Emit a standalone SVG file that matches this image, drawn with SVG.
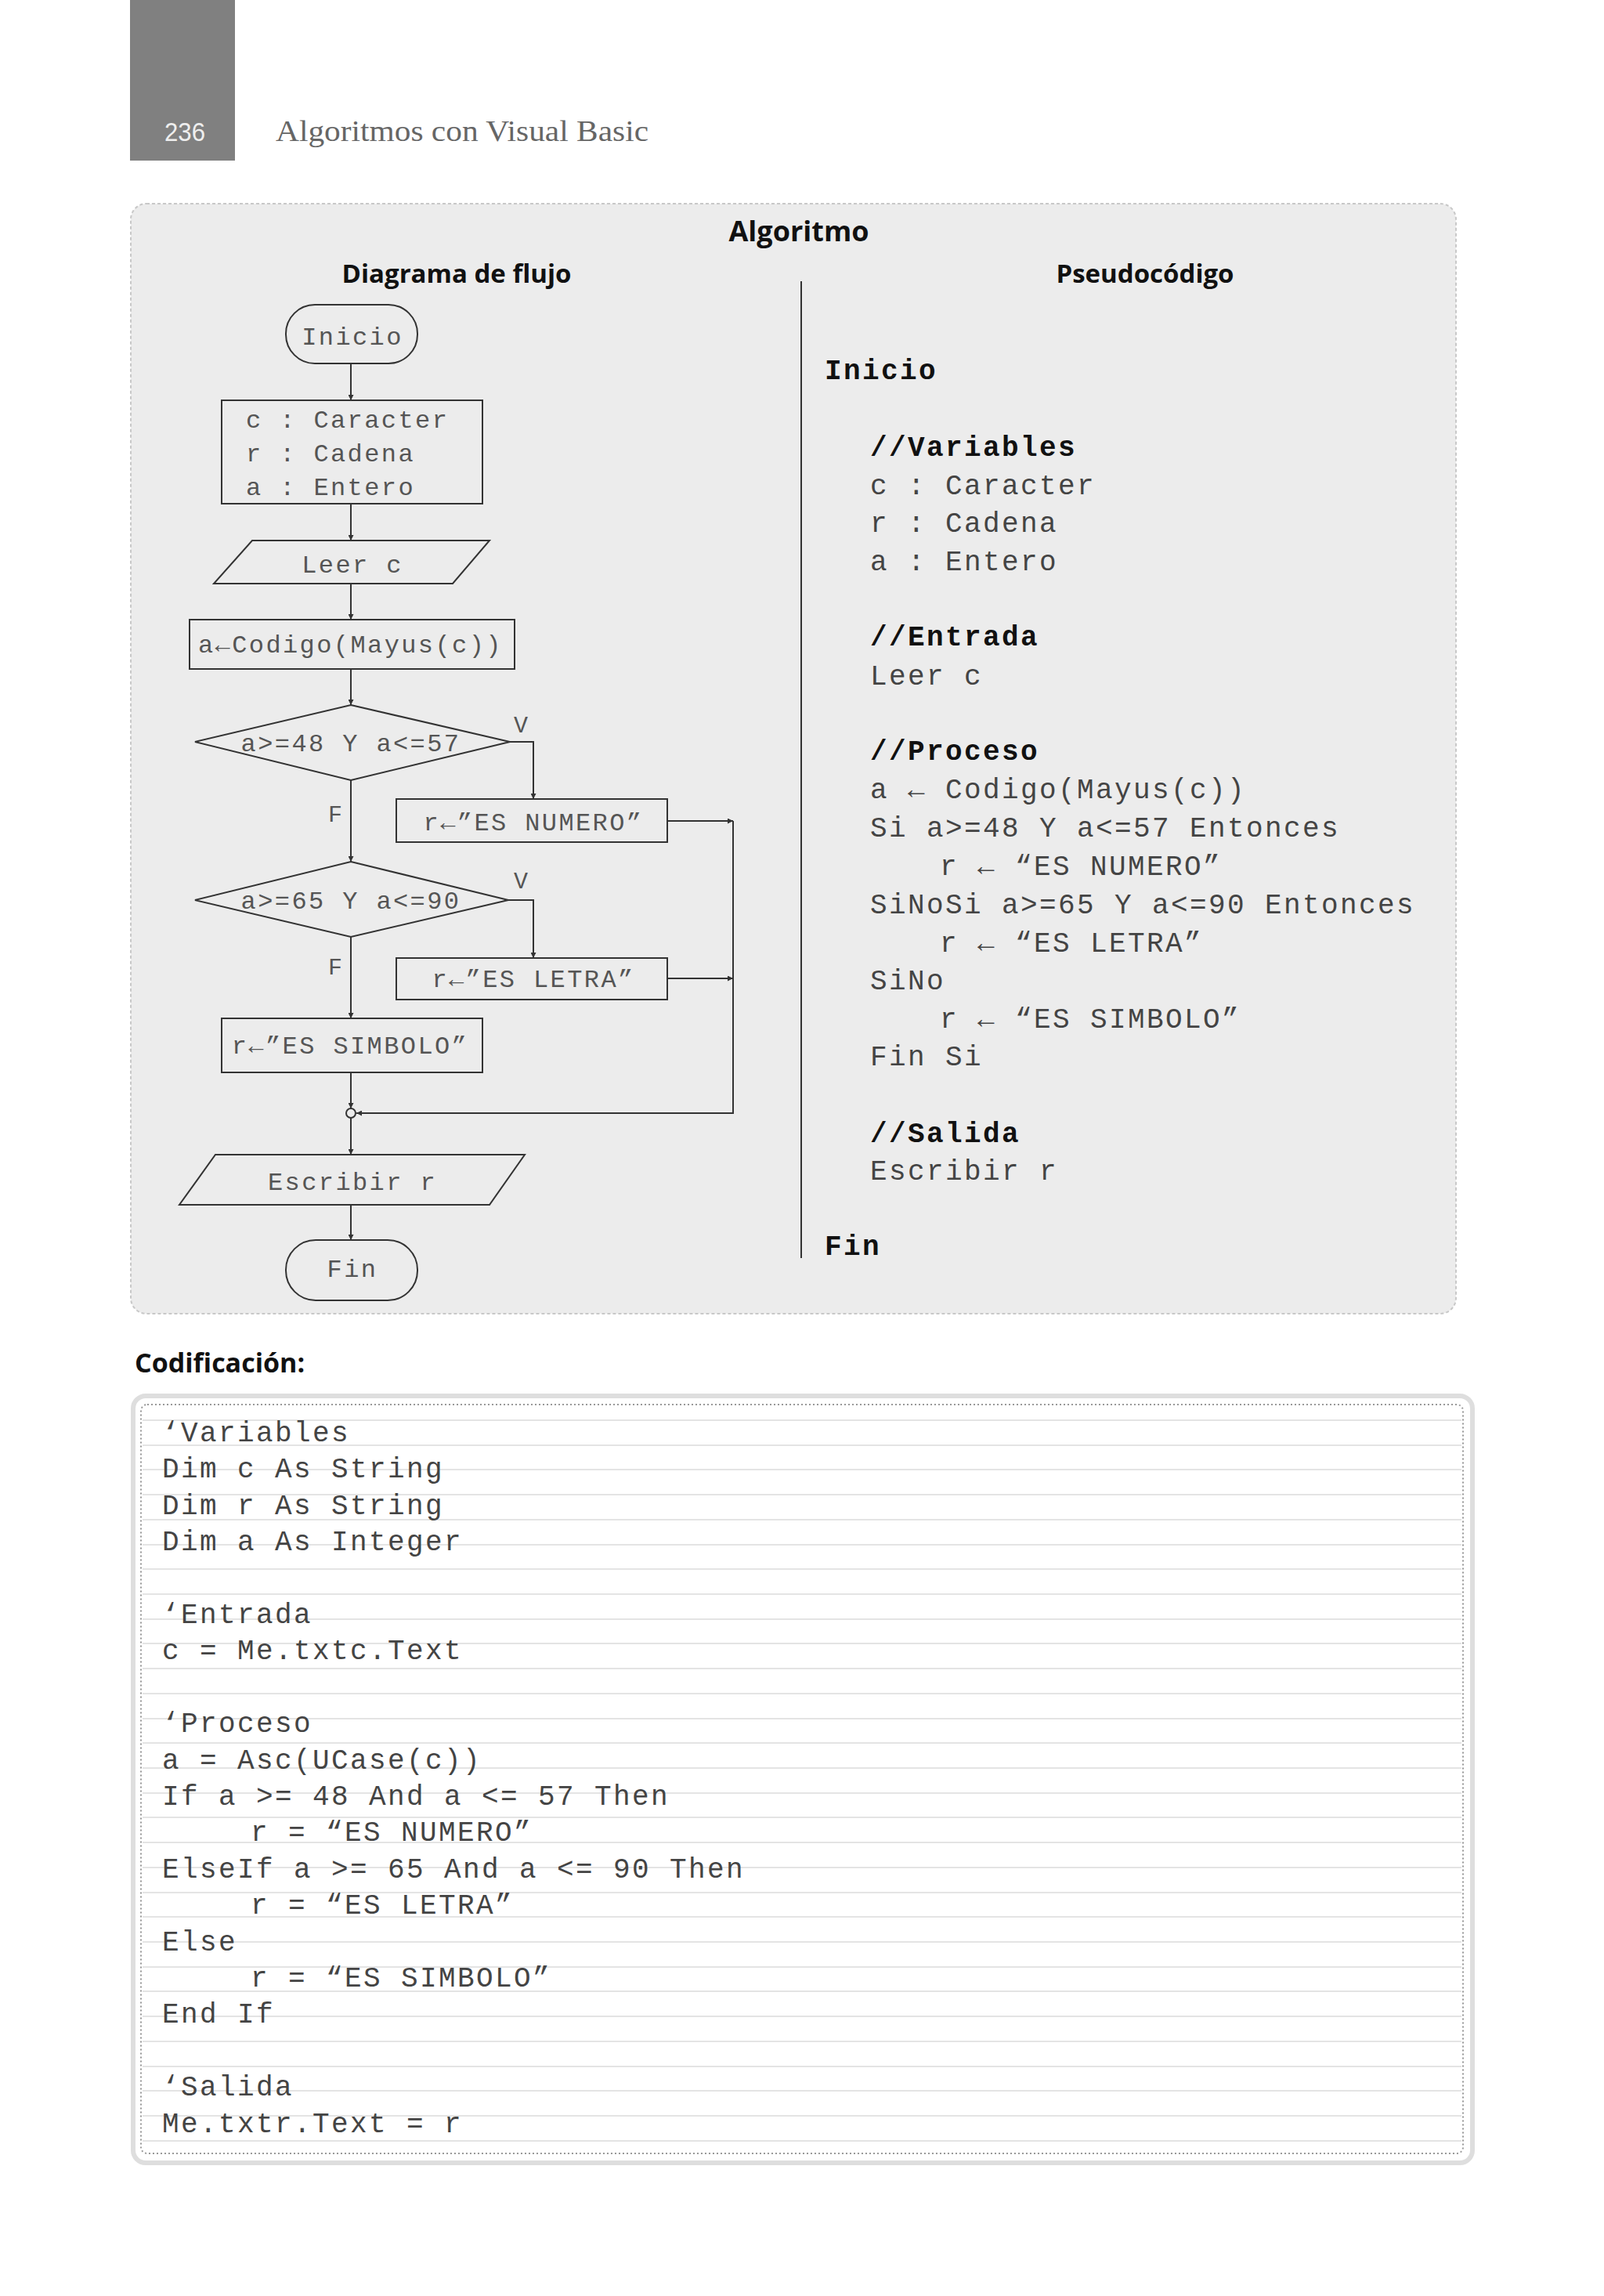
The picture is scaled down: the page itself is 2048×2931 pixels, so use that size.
<svg xmlns="http://www.w3.org/2000/svg" width="2048" height="2931" viewBox="0 0 2048 2931">
<defs>
<marker id="ah" viewBox="0 0 10 10" refX="10" refY="5" markerWidth="7" markerHeight="7" markerUnits="userSpaceOnUse" orient="auto"><path d="M0,0 L10,5 L0,10 z" fill="#333"/></marker>
<style>
.sh{fill:none;stroke:#333;stroke-width:2}
.ft{font-family:"Liberation Mono",monospace;font-size:32px;letter-spacing:2.4px;fill:#555}
.ftm{text-anchor:middle}
.lb{font-family:"Liberation Mono",monospace;font-size:30px;fill:#555}
.ps{font-family:"Liberation Mono",monospace;font-size:36px;letter-spacing:2.4px;fill:#444}
.psb{font-family:"Liberation Mono",monospace;font-size:36px;letter-spacing:2.4px;fill:#111;font-weight:bold}
.cd{font-family:"Liberation Mono",monospace;font-size:36px;letter-spacing:2.4px;fill:#444}
.hd{font-family:"Open Sans",sans-serif;font-weight:bold;fill:#111}
.cn{fill:none;stroke:#333;stroke-width:2}
.rule{stroke:#e4e4e4;stroke-width:2}
</style>
</defs>
<rect width="2048" height="2931" fill="#fff"/>
<g id="header">
<rect x="166" y="0" width="134" height="205" fill="#808080"/>
<text x="236" y="180" font-family="Liberation Sans,sans-serif" font-size="34" fill="#eee" text-anchor="middle" textLength="52" lengthAdjust="spacingAndGlyphs">236</text>
<text x="352" y="180" font-family="Liberation Serif,serif" font-size="38" fill="#666" textLength="476" lengthAdjust="spacingAndGlyphs">Algoritmos con Visual Basic</text>
</g>
<g id="panel">
<rect x="167" y="260" width="1692" height="1417" rx="20" fill="#ececec" stroke="#c8c8c8" stroke-width="2" stroke-dasharray="4,3"/>
<text class="hd" x="1020" y="308" font-size="36" text-anchor="middle">Algoritmo</text>
<text class="hd" x="583" y="361" font-size="33" text-anchor="middle">Diagrama de flujo</text>
<text class="hd" x="1462" y="361" font-size="33" text-anchor="middle">Pseudocódigo</text>
<line x1="1023" y1="359" x2="1023" y2="1606" stroke="#333" stroke-width="2"/>
</g>
<g id="connectors">
<line class="cn" x1="448" y1="464" x2="448" y2="511" marker-end="url(#ah)"/>
<line class="cn" x1="448" y1="643" x2="448" y2="690" marker-end="url(#ah)"/>
<line class="cn" x1="448" y1="745" x2="448" y2="791" marker-end="url(#ah)"/>
<line class="cn" x1="448" y1="854" x2="448" y2="900" marker-end="url(#ah)"/>
<line class="cn" x1="448" y1="996" x2="448" y2="1100" marker-end="url(#ah)"/>
<polyline class="cn" points="651,947 681,947 681,1020" marker-end="url(#ah)"/>
<polyline class="cn" points="649,1149 681,1149 681,1223" marker-end="url(#ah)"/>
<line class="cn" x1="448" y1="1196" x2="448" y2="1300" marker-end="url(#ah)"/>
<line class="cn" x1="852" y1="1048" x2="936" y2="1048" marker-end="url(#ah)"/>
<line class="cn" x1="852" y1="1249" x2="936" y2="1249" marker-end="url(#ah)"/>
<polyline class="cn" points="936,1048 936,1421 455,1421" marker-end="url(#ah)"/>
<line class="cn" x1="448" y1="1369" x2="448" y2="1415" marker-end="url(#ah)"/>
<line class="cn" x1="448" y1="1427" x2="448" y2="1474" marker-end="url(#ah)"/>
<line class="cn" x1="448" y1="1538" x2="448" y2="1583" marker-end="url(#ah)"/>
<text class="lb" x="665" y="935" text-anchor="middle">V</text>
<text class="lb" x="428" y="1049" text-anchor="middle">F</text>
<text class="lb" x="665" y="1134" text-anchor="middle">V</text>
<text class="lb" x="428" y="1244" text-anchor="middle">F</text>
</g>
<g id="inicio"><rect class="sh" x="365" y="389" width="168" height="75" rx="37"/><text class="ft ftm" x="450" y="440">Inicio</text></g>
<g id="decl"><rect class="sh" x="283" y="511" width="333" height="132"/>
<text class="ft" x="314" y="546">c : Caracter</text><text class="ft" x="314" y="589">r : Cadena</text><text class="ft" x="314" y="632">a : Entero</text></g>
<g id="leer"><polygon class="sh" points="322,690 625,690 578,745 273,745"/><text class="ft ftm" x="450" y="731">Leer c</text></g>
<g id="asig"><rect class="sh" x="242" y="791" width="415" height="63"/><text class="ft" x="253" y="833">a←Codigo(Mayus(c))</text></g>
<g id="dec1"><polygon class="sh" points="448,900 651,947 448,996 249,947"/><text class="ft ftm" x="448" y="959">a&gt;=48 Y a&lt;=57</text></g>
<g id="numero"><rect class="sh" x="506" y="1020" width="346" height="55"/><text class="ft ftm" x="681" y="1060">r←”ES NUMERO”</text></g>
<g id="dec2"><polygon class="sh" points="448,1100 649,1149 448,1196 249,1149"/><text class="ft ftm" x="448" y="1160">a&gt;=65 Y a&lt;=90</text></g>
<g id="letra"><rect class="sh" x="506" y="1223" width="346" height="53"/><text class="ft ftm" x="681" y="1260">r←”ES LETRA”</text></g>
<g id="simbolo"><rect class="sh" x="283" y="1300" width="333" height="69"/><text class="ft ftm" x="447" y="1345">r←”ES SIMBOLO”</text></g>
<g id="junta"><circle cx="448" cy="1421" r="6" fill="#ececec" stroke="#333" stroke-width="2"/></g>
<g id="escribir"><polygon class="sh" points="275,1474 670,1474 625,1538 229,1538"/><text class="ft ftm" x="450" y="1519">Escribir r</text></g>
<g id="fin"><rect class="sh" x="365" y="1583" width="168" height="77" rx="38"/><text class="ft ftm" x="450" y="1630">Fin</text></g>
<g id="pseudo">
<text class="psb" x="1053" y="484">Inicio</text>
<text class="psb" x="1111" y="582">//Variables</text>
<text class="ps" x="1111" y="631">c : Caracter</text>
<text class="ps" x="1111" y="679">r : Cadena</text>
<text class="ps" x="1111" y="728">a : Entero</text>
<text class="psb" x="1111" y="824">//Entrada</text>
<text class="ps" x="1111" y="874">Leer c</text>
<text class="psb" x="1111" y="970">//Proceso</text>
<text class="ps" x="1111" y="1019">a ← Codigo(Mayus(c))</text>
<text class="ps" x="1111" y="1068">Si a&gt;=48 Y a&lt;=57 Entonces</text>
<text class="ps" x="1200" y="1117">r ← “ES NUMERO”</text>
<text class="ps" x="1111" y="1166">SiNoSi a&gt;=65 Y a&lt;=90 Entonces</text>
<text class="ps" x="1200" y="1215">r ← “ES LETRA”</text>
<text class="ps" x="1111" y="1263">SiNo</text>
<text class="ps" x="1200" y="1312">r ← “ES SIMBOLO”</text>
<text class="ps" x="1111" y="1360">Fin Si</text>
<text class="psb" x="1111" y="1458">//Salida</text>
<text class="ps" x="1111" y="1506">Escribir r</text>
<text class="psb" x="1053" y="1602">Fin</text>
</g>
<g id="codificacion">
<text class="hd" x="172" y="1752" font-size="34">Codificación:</text>
<rect x="170" y="1782" width="1710" height="979" rx="16" fill="#fff" stroke="#dedede" stroke-width="6"/>
<rect x="180" y="1793" width="1688" height="956" rx="8" fill="none" stroke="#999" stroke-width="2" stroke-dasharray="2,3"/>
<g>
<line class="rule" x1="182" y1="1813" x2="1866" y2="1813"/><line class="rule" x1="182" y1="1845" x2="1866" y2="1845"/><line class="rule" x1="182" y1="1876" x2="1866" y2="1876"/><line class="rule" x1="182" y1="1908" x2="1866" y2="1908"/><line class="rule" x1="182" y1="1940" x2="1866" y2="1940"/><line class="rule" x1="182" y1="1972" x2="1866" y2="1972"/><line class="rule" x1="182" y1="2003" x2="1866" y2="2003"/><line class="rule" x1="182" y1="2035" x2="1866" y2="2035"/><line class="rule" x1="182" y1="2067" x2="1866" y2="2067"/><line class="rule" x1="182" y1="2098" x2="1866" y2="2098"/><line class="rule" x1="182" y1="2130" x2="1866" y2="2130"/><line class="rule" x1="182" y1="2162" x2="1866" y2="2162"/><line class="rule" x1="182" y1="2194" x2="1866" y2="2194"/><line class="rule" x1="182" y1="2225" x2="1866" y2="2225"/><line class="rule" x1="182" y1="2257" x2="1866" y2="2257"/><line class="rule" x1="182" y1="2289" x2="1866" y2="2289"/><line class="rule" x1="182" y1="2320" x2="1866" y2="2320"/><line class="rule" x1="182" y1="2352" x2="1866" y2="2352"/><line class="rule" x1="182" y1="2384" x2="1866" y2="2384"/><line class="rule" x1="182" y1="2416" x2="1866" y2="2416"/><line class="rule" x1="182" y1="2447" x2="1866" y2="2447"/><line class="rule" x1="182" y1="2479" x2="1866" y2="2479"/><line class="rule" x1="182" y1="2511" x2="1866" y2="2511"/><line class="rule" x1="182" y1="2542" x2="1866" y2="2542"/><line class="rule" x1="182" y1="2574" x2="1866" y2="2574"/><line class="rule" x1="182" y1="2606" x2="1866" y2="2606"/><line class="rule" x1="182" y1="2638" x2="1866" y2="2638"/><line class="rule" x1="182" y1="2669" x2="1866" y2="2669"/><line class="rule" x1="182" y1="2701" x2="1866" y2="2701"/><line class="rule" x1="182" y1="2733" x2="1866" y2="2733"/>
</g>
<text class="cd" x="207" y="1840">‘Variables</text>
<text class="cd" x="207" y="1886">Dim c As String</text>
<text class="cd" x="207" y="1933">Dim r As String</text>
<text class="cd" x="207" y="1979">Dim a As Integer</text>
<text class="cd" x="207" y="2072">‘Entrada</text>
<text class="cd" x="207" y="2118">c = Me.txtc.Text</text>
<text class="cd" x="207" y="2211">‘Proceso</text>
<text class="cd" x="207" y="2258">a = Asc(UCase(c))</text>
<text class="cd" x="207" y="2304">If a &gt;= 48 And a &lt;= 57 Then</text>
<text class="cd" x="320" y="2350">r = “ES NUMERO”</text>
<text class="cd" x="207" y="2397">ElseIf a &gt;= 65 And a &lt;= 90 Then</text>
<text class="cd" x="320" y="2443">r = “ES LETRA”</text>
<text class="cd" x="207" y="2490">Else</text>
<text class="cd" x="320" y="2536">r = “ES SIMBOLO”</text>
<text class="cd" x="207" y="2582">End If</text>
<text class="cd" x="207" y="2675">‘Salida</text>
<text class="cd" x="207" y="2722">Me.txtr.Text = r</text>
</g>
</svg>
